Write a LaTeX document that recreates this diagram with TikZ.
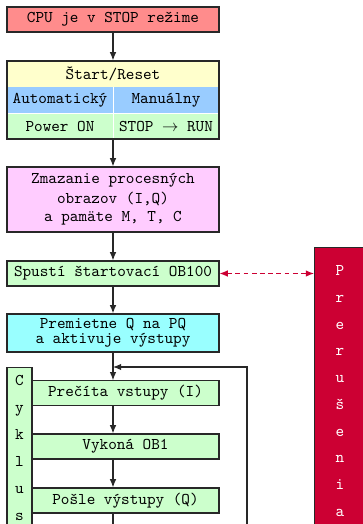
\documentclass[tikz,border=0pt]{standalone}
\usetikzlibrary{arrows.meta}
\definecolor{cpured}{RGB}{255,140,140}
\definecolor{cyell}{RGB}{255,255,204}
\definecolor{cblue}{RGB}{153,204,255}
\definecolor{cgreen}{RGB}{204,255,204}
\definecolor{cmag}{RGB}{255,204,255}
\definecolor{ccyan}{RGB}{153,255,255}
\definecolor{crim}{RGB}{204,0,51}
\definecolor{lin}{RGB}{40,40,40}
\begin{document}
\begin{tikzpicture}[x=0.61pt,y=-0.61pt,font=\ttfamily,
  box/.style={draw=lin,line width=0.7pt,inner sep=0pt,align=center,minimum width=129.3pt},
  cell/.style={inner sep=0pt,align=center,minimum width=64.66pt,minimum height=15.86pt},
  flow/.style={draw=lin,line width=0.7pt,-{Latex[length=5pt,width=4pt]}},
  plain/.style={draw=lin,line width=0.7pt},
  irq/.style={draw=crim,line width=0.7pt,dash pattern=on 3pt off 2pt,{Latex[length=5pt,width=4pt]}-{Latex[length=5pt,width=4pt]}}]
\useasboundingbox (0,0) rectangle (363,524);
\clip (0,0) rectangle (363,524);
% CPU
\node[box,fill=cpured,minimum height=15.25pt] (cpu) at (113,19.5) {CPU je v STOP režime};
% Start/Reset composite
\node[cell,fill=cyell,minimum width=129.3pt] (st) at (113,74) {Štart/Reset};
\node[cell,fill=cblue] (auto) at (60,100) {Automatický};
\node[cell,fill=cblue] (man) at (166,100) {Manuálny};
\node[cell,fill=cgreen] (pon) at (60,126) {Power ON};
\node[cell,fill=cgreen] (sr) at (166,126) {STOP $\rightarrow$ RUN};
\draw[white,line width=0.7pt] (auto.north east) -- (pon.south east);
\draw[white,line width=0.7pt] (auto.south west) -- (man.south east);
\node[box,minimum height=47.58pt] (start) at (113,100) {};
% Zmazanie
\node[box,fill=cmag,minimum height=39.65pt] (zmaz) at (113,199.5) {Zmazanie procesných\\obrazov (I,Q)\\[-1pt]a pamäte M, T, C};
% OB100
\node[box,fill=cgreen,minimum height=15.25pt] (ob) at (113,273.5) {Spustí štartovací OB100};
% Premietne
\node[box,fill=ccyan,minimum height=23.2pt] (prem) at (113,333) {Premietne Q na PQ\\[-3pt]a aktivuje výstupy};
% Cyklus
\node[box,fill=cgreen,minimum width=15.25pt,minimum height=120pt,anchor=north] (cyk) at (19.5,367) {};
\node[align=center,inner sep=0pt] (cyktxt) at (19.5,448) {C\\[4.5pt]y\\[4.5pt]k\\[4.5pt]l\\[4.5pt]u\\[4.5pt]s};
\node[box,fill=cgreen,minimum width=114.1pt,minimum height=14.8pt] (prec) at (125.5,393) {Prečíta vstupy (I)};
\node[box,fill=cgreen,minimum width=114.1pt,minimum height=15.25pt] (vyk) at (125.5,446.5) {Vykoná OB1};
\node[box,fill=cgreen,minimum width=114.1pt,minimum height=15.25pt] (posl) at (125.5,500.5) {Pošle výstupy (Q)};
% Prerusenia
\node[draw=lin,line width=0.7pt,fill=crim,minimum width=32pt,minimum height=220pt,anchor=north west,inner sep=0pt] (prer) at (314,247) {};
\node[align=center,inner sep=0pt,text=white] (prertxt) at (340,391) {P\\[4.3pt]r\\[4.3pt]e\\[4.3pt]r\\[4.3pt]u\\[4.3pt]š\\[4.3pt]e\\[4.3pt]n\\[4.3pt]i\\[4.3pt]a};
% connectors
\draw[flow] (cpu) -- (start);
\draw[flow] (start) -- (zmaz);
\draw[flow] (zmaz) -- (ob);
\draw[flow] (ob) -- (prem);
\draw[flow] (prem.south) -- (prem.south |- prec.north);
\draw[flow] (prem.south |- prec.south) -- (prem.south |- vyk.north);
\draw[flow] (prem.south |- vyk.south) -- (prem.south |- posl.north);
\coordinate (bot) at (113,540);
\draw[plain] (prem.south |- posl.south) -- (bot);
\coordinate (loopB) at (247,540);
\coordinate (loopT) at (247,367);
\draw[flow] (loopB) -- (loopT) -- (prem.south |- loopT);
\draw[irq] (ob.east) -- (ob.east -| prer.west);
\end{tikzpicture}
\end{document}
